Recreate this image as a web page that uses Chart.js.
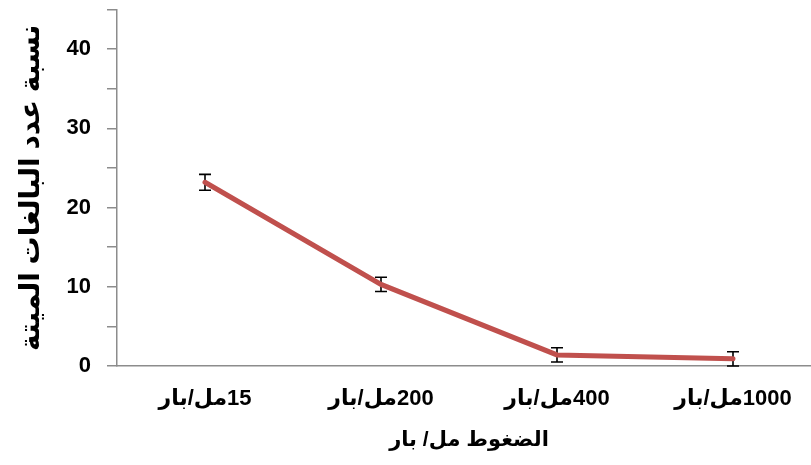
<!DOCTYPE html>
<html>
<head>
<meta charset="utf-8">
<script src="https://cdn.jsdelivr.net/npm/chart.js@4"></script>
<style>
html,body{margin:0;padding:0;background:#fff;}
#wrap{width:811px;height:465px;overflow:hidden;position:relative;}
#c{position:absolute;left:0;top:-7px;}
</style>
</head>
<body>
<div id="wrap"><canvas id="c" width="821" height="472"></canvas></div>
<script>
const categories = ['\u200F15مل/بار', '\u200F200مل/بار', '\u200F400مل/بار', '\u200F1000مل/بار'];
const mortality = [23.2, 10.3, 1.4, 0.9];
const errorAmount = [1.0, 0.9, 0.9, 0.9];
const yTitle = 'نسبة عدد البالغات الميتة';
const xTitle = 'الضغوط مل/ بار';

const FONT = 'Liberation Sans, Arial, DejaVu Sans, sans-serif';

const errorBars = {
  id: 'errorBars',
  beforeDatasetsDraw(chart) {
    const ctx = chart.ctx;
    const meta = chart.getDatasetMeta(0);
    const y = chart.scales.y;
    ctx.save();
    ctx.strokeStyle = '#000';
    ctx.lineWidth = 1.6;
    meta.data.forEach((pt, i) => {
      const v = mortality[i], e = errorAmount[i];
      const yt = y.getPixelForValue(v + e), yb = y.getPixelForValue(v - e);
      const x = pt.x, w = 6;
      ctx.beginPath();
      ctx.moveTo(x, yt); ctx.lineTo(x, yb);
      ctx.moveTo(x - w, yt); ctx.lineTo(x + w, yt);
      ctx.moveTo(x - w, yb); ctx.lineTo(x + w, yb);
      ctx.stroke();
    });
    ctx.restore();
  }
};

new Chart(document.getElementById('c'), {
  type: 'line',
  data: {
    labels: categories,
    datasets: [{
      data: mortality,
      borderColor: '#C0504D',
      borderWidth: 5,
      pointRadius: 0,
      tension: 0,
      borderCapStyle: 'round',
      fill: false
    }]
  },
  options: {
    responsive: false,
    animation: false,
    layout: { padding: { top: 2, right: 0, left: 0, bottom: 0 } },
    plugins: { legend: { display: false }, tooltip: { enabled: false } },
    scales: {
      x: {
        offset: true,
        grid: { display: false, drawTicks: false },
        border: { color: '#8c8c8c', width: 1.5 },
        ticks: { color: '#000', font: { family: FONT, size: 22, weight: 'bold' }, padding: 20, maxRotation: 0 },
        title: { display: true, text: xTitle, color: '#000', font: { family: FONT, size: 21, weight: 'bold' }, padding: { top: 0, bottom: 12 } },
        afterFit(s) { s.height = 99; }
      },
      y: {
        min: 0, max: 45,
        grid: { drawOnChartArea: false, drawTicks: true, tickLength: 10, color: '#8c8c8c', lineWidth: 1.5 },
        border: { color: '#8c8c8c', width: 1.5 },
        ticks: {
          stepSize: 5, color: '#000', padding: 16,
          font: ctx => ({ family: FONT, size: (ctx.tick && ctx.tick.value % 10 === 0) ? 22 : 1, weight: 'bold' }),
          callback: v => (v % 10 === 0 ? String(v) : '')
        },
        title: { display: true, text: yTitle, color: '#000', font: { family: FONT, size: 28, weight: 'bold' }, padding: { top: 14, bottom: 0 } },
        afterFit(s) { s.width = 117; }
      }
    }
  },
  plugins: [errorBars]
});
</script>
</body>
</html>
